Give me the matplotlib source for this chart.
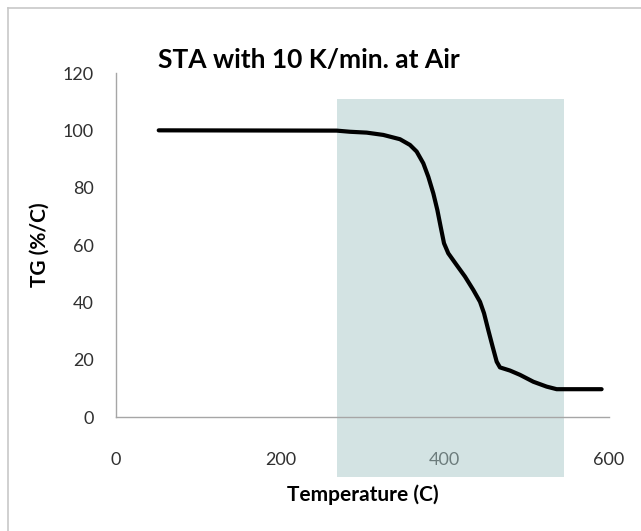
import matplotlib
matplotlib.use("Agg")
import matplotlib.pyplot as plt
from matplotlib.patches import Rectangle
from matplotlib.lines import Line2D

plt.rcParams['font.family'] = ['Lato', 'DejaVu Sans']

# Data
temperature = [52, 268.5, 284.8, 305.1, 325.3, 345.6, 357.8, 365.9, 374.0, 380.1, 386.2,
               391.1, 395.1, 399.2, 404.4, 414.6, 424.7, 434.9, 443.0, 447.9, 453.1,
               458.4, 463.3, 467.3, 479.5, 491.7, 507.9, 524.1, 536.3, 591.0]
tg = [100, 99.9, 99.5, 99.2, 98.4, 96.9, 94.9, 92.6, 88.5, 83.8, 78.0,
      72.2, 66.4, 60.6, 57.1, 53.0, 49.0, 44.3, 40.2, 36.2, 30.3,
      24.5, 19.3, 17.3, 16.2, 14.7, 12.3, 10.6, 9.7, 9.7]
x_ticks = [0, 200, 400, 600]
y_ticks = [0, 20, 40, 60, 80, 100, 120]
shade_x = [269, 545]
shade_y = [-21, 111]

fig = plt.figure(figsize=(6.41, 5.31), dpi=100)
ax = fig.add_axes([116/641, 1-417/531, (609-116)/641, (417-73)/531])

ax.plot(temperature, tg, color='black', lw=3.0, solid_capstyle='round',
        solid_joinstyle='round', zorder=3)

ax.set_xlim(0, 600)
ax.set_ylim(0, 120)
ax.set_xticks(x_ticks)
ax.set_yticks(y_ticks)
ax.tick_params(length=0, labelsize=13, colors='#303030')
ax.tick_params(axis='x', pad=25)
ax.tick_params(axis='y', pad=16)
for s in ['top', 'right']:
    ax.spines[s].set_visible(False)
for s in ['left', 'bottom']:
    ax.spines[s].set_color('#a6a6a6')
    ax.spines[s].set_linewidth(1.0)

ax.add_patch(Rectangle((shade_x[0], shade_y[0]), shade_x[1]-shade_x[0], shade_y[1]-shade_y[0],
                       facecolor='#a9c8c8', alpha=0.5, edgecolor='none', clip_on=False, zorder=2.5))

fig.text(309/641, 1-60/531, 'STA with 10 K/min. at Air', fontsize=19, fontweight='bold',
         ha='center', va='center')
ax.set_xlabel('Temperature (C)', fontsize=15, fontweight='bold', labelpad=12)
ax.set_ylabel('TG (%/C)', fontsize=15, fontweight='bold', labelpad=9)

fig.add_artist(Line2D([8/641, 8/641], [0, 1-7.5/531], transform=fig.transFigure, color='#c8c8c8', lw=1.2))
fig.add_artist(Line2D([8/641, 1], [1-7.5/531, 1-7.5/531], transform=fig.transFigure, color='#c8c8c8', lw=1.2))

fig.savefig('out.png', dpi=100)
